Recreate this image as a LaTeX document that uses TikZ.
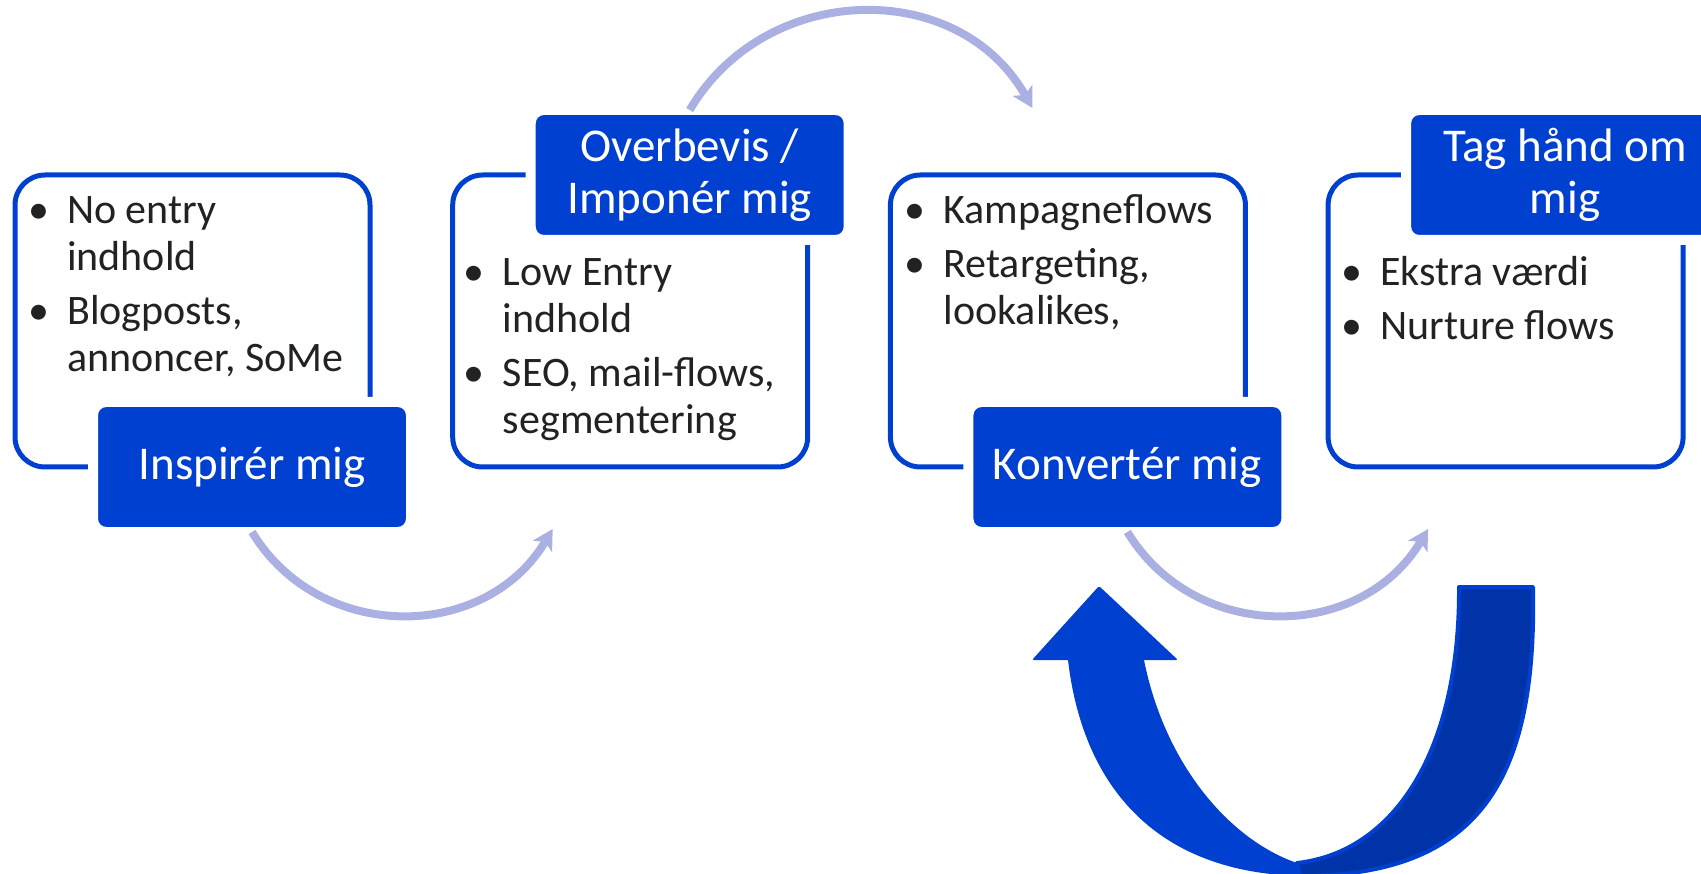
\documentclass[tikz,border=0pt]{standalone}
\usepackage{fontspec}
\setmainfont{Carlito}
\usepackage{tikz}
\usetikzlibrary{calc}
\usetikzlibrary{arrows.meta}
\definecolor{smartBlue}{RGB}{0,64,208}
\definecolor{tailBlue}{RGB}{0,51,168}
\definecolor{arcLilac}{RGB}{171,176,227}
\definecolor{textGrey}{RGB}{34,34,34}
\newcommand{\bul}{\llap{\textbullet\hspace{18pt}}\strut}
\tikzset{
    stageBox/.style={
        ,   draw=smartBlue
        ,   fill=white
        ,   line width=5pt
        ,   rounded corners=30pt
        ,   minimum width=355pt
        ,   minimum height=292pt
        ,   outer sep=0pt
    },
    stageLabel/.style={
        ,   fill=smartBlue
        ,   draw=white
        ,   line width=10pt
        ,   rounded corners=13pt
        ,   minimum width=318pt
        ,   minimum height=130pt
        ,   inner sep=0pt
        ,   outer sep=0pt
        ,   text=white
        ,   align=center
        ,   font={\fontsize{47}{52}\selectfont}
    },
    stageText/.style={
        ,   anchor=north west
        ,   inner sep=0pt
        ,   align=left
        ,   text=textGrey
        ,   font={\fontsize{42}{47}\selectfont}
    },
    flowArc/.style={
        ,   draw=arcLilac
        ,   line width=8pt
        ,   -{Stealth[length=20pt,width=22pt,inset=5pt]}
    }
}

\begin{document}
\begin{tikzpicture}[x=1pt, y=-1pt]
\useasboundingbox (0,0) rectangle (1701,874);
\clip (0,0) rectangle (1701,874);

% return arrow under the last two stages
\draw[fill=tailBlue, draw=smartBlue, line width=4pt, line join=round]
  (1459,587) -- (1533,587) .. controls (1537,780) and (1480,876) .. (1300,876)
  -- (1297,863) .. controls (1395,852) and (1460,750) .. cycle;
\fill[smartBlue]
  (1068,655) -- (1144,655) -- (1144,660) .. controls (1165,765) and (1230,840) .. (1297,863)
  -- (1300,876) .. controls (1150,872) and (1082,780) .. (1068,660) -- cycle;
\fill[smartBlue, rounded corners=2pt] (1032,660) -- (1099,586) -- (1178,660) -- cycle;

\foreach \i in {1,...,4}{
  \node[stageBox] (box\i) at ({192.5+437.7*(\i-1)},321) {};
}

\node[stageText] (txt1) at ($(box1.north west)+(52,15)$)
  {\bul No entry\\indhold\\[7pt]\bul Blogposts,\\annoncer, SoMe};
\node[stageText] (txt2) at ($(box2.north west)+(50,77)$)
  {\bul Low Entry\\indhold\\[7pt]\bul SEO, mail-flows,\\segmentering};
\node[stageText] (txt3) at ($(box3.north west)+(53,15)$)
  {\bul Kampagneflows\\[7pt]\bul Retargeting,\\lookalikes,};
\node[stageText] (txt4) at ($(box4.north west)+(52,77)$)
  {\bul Ekstra værdi\\[7pt]\bul Nurture flows};

\node[stageLabel] (lab1) at ($(box1.south west)+(237,0)$) {Inspirér mig};
\node[stageLabel] (lab2) at ($(box2.north west)+(237,0)$) {Overbevis /\\Imponér mig};
\node[stageLabel] (lab3) at ($(box3.south west)+(237,0)$) {Konvertér mig};
\node[stageLabel] (lab4) at ($(box4.north west)+(237,0)$) {Tag hånd om\\mig};

\coordinate (a1e) at ($(box2.south west)+(100,62)$);
\coordinate (a2e) at ($(box3.north west)+(142,-67)$);
\coordinate (a3e) at ($(box4.south west)+(100,62)$);
\draw[flowArc] (lab1.south) .. controls +(68,112) and +(-67,113) .. (a1e);
\draw[flowArc] (lab2.north) .. controls +(76,-129) and +(-74,-131) .. (a2e);
\draw[flowArc] (lab3.south) .. controls +(68,112) and +(-67,113) .. (a3e);
\end{tikzpicture}
\end{document}
